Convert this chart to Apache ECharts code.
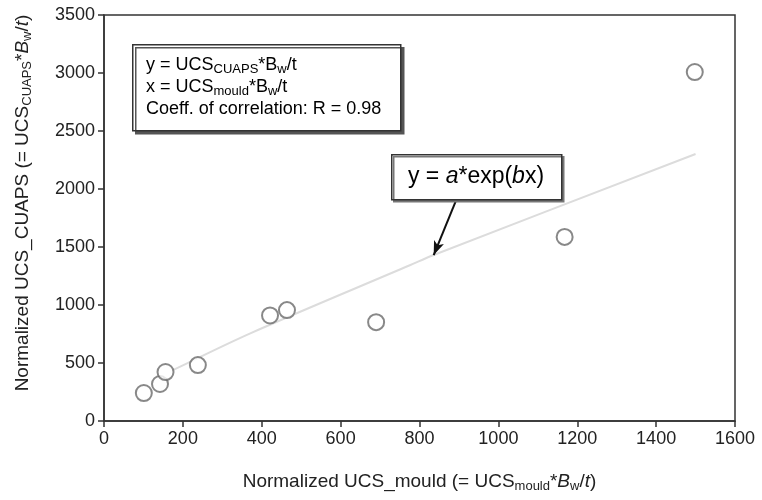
<!DOCTYPE html>
<html>
<head>
<meta charset="utf-8">
<script src="https://cdn.jsdelivr.net/npm/echarts@6/dist/echarts.min.js"></script>
<style>
  html, body { margin: 0; padding: 0; background: #fff; }
  #main { width: 762px; height: 500px; }
</style>
</head>
<body>
<div id="main"></div>
<script>
// measured points: normalized UCS (mould) vs normalized UCS (CUAPS)
const ucsMould = [101, 142, 156, 238, 421, 464, 690, 1168, 1498];
const ucsCuaps = [241, 319, 422, 482, 910, 956, 852, 1587, 3008];

// fitted curve y = a*exp(bx)
const fitX = [176, 371, 777, 836, 1500];
const fitY = [440, 756, 1345, 1431, 2302];

// arrow of the formula label (from box to curve)
const arrowFrom = [893, 1905];
const arrowTo = [836, 1431];

const font = '"Liberation Sans", Arial, sans-serif';
const ink = '#222';

const points = ucsMould.map((x, i) => [x, ucsCuaps[i]]);
const fit = fitX.map((x, i) => [x, fitY[i]]);

const sub = { fontSize: 13, fontFamily: font, color: ink, verticalAlign: 'bottom', lineHeight: 22, padding: [8, 0, 0, 0] };
const txt = { fontSize: 19, fontFamily: font, color: ink, lineHeight: 22 };
const it = Object.assign({}, txt, { fontStyle: 'italic' });
const boxTxt = { fontSize: 18, fontFamily: font, color: ink, lineHeight: 22 };
const boxSub = { fontSize: 13, fontFamily: font, color: ink, verticalAlign: 'bottom', lineHeight: 22, padding: [8, 0, 0, 0] };

const myChart = echarts.init(document.getElementById('main'));
const chartOpts = {
  animation: false,
  grid: {
    left: 104, right: 27, top: 15, bottom: 79,
    show: true, borderColor: '#333', borderWidth: 1.5
  },
  xAxis: {
    type: 'value', min: 0, max: 1600, interval: 200,
    splitLine: { show: false },
    axisLine: { onZero: false, lineStyle: { color: '#333', width: 1.5 } },
    axisTick: { length: 6, lineStyle: { color: '#333', width: 1.5 } },
    axisLabel: { color: ink, fontSize: 18, fontFamily: font, margin: 9, formatter: v => String(v) },
    name: '{t|Normalized UCS_mould (= UCS}{s|mould}{t|*}{i|B}{s|w}{t|/}{i|t}{t|)}',
    nameLocation: 'middle', nameGap: 50,
    nameTextStyle: { rich: { t: txt, i: it, s: sub } }
  },
  yAxis: {
    type: 'value', min: 0, max: 3500, interval: 500,
    splitLine: { show: false },
    axisLine: { onZero: false, lineStyle: { color: '#333', width: 1.5 } },
    axisTick: { length: 6, lineStyle: { color: '#333', width: 1.5 } },
    axisLabel: { color: ink, fontSize: 18, fontFamily: font, margin: 9, formatter: v => String(v) },
    name: '{t|Normalized UCS_CUAPS (= UCS}{s|CUAPS}{t|*}{i|B}{s|w}{t|/}{i|t}{t|)}',
    nameLocation: 'middle', nameGap: 70,
    nameTextStyle: { padding: [0, 0, 0, 30], rich: { t: txt, i: it, s: sub } }
  },
  series: [
    {
      type: 'line',
      data: fit,
      symbol: 'none',
      smooth: 0.3,
      lineStyle: { color: '#dcdcdc', width: 2 },
      z: 1,
      markLine: {
        silent: true,
        symbol: ['none', 'arrow'],
        symbolSize: [8, 14],
        label: { show: false },
        lineStyle: { color: '#111', width: 2, type: 'solid' },
        data: [[{ coord: arrowFrom }, { coord: arrowTo }]]
      }
    },
    {
      type: 'scatter',
      data: points,
      symbol: 'circle',
      symbolSize: 16,
      itemStyle: { color: '#fff', borderColor: '#6a6a6a', borderWidth: 2 },
      z: 3
    }
  ],
  graphic: [
    {
      type: 'rect', left: 132, top: 44, z: 10,
      shape: { width: 268, height: 86 },
      style: { fill: '#fff', stroke: '#333', lineWidth: 1.5, shadowColor: '#555', shadowOffsetX: 3, shadowOffsetY: 3, shadowBlur: 0 }
    },
    {
      type: 'text', left: 146, top: 55, z: 11,
      style: {
        text: '{t|y = UCS}{s|CUAPS}{t|*B}{s|w}{t|/t}\n{t|x = UCS}{s|mould}{t|*B}{s|w}{t|/t}\n{t|Coeff. of correlation: R = 0.98}',
        rich: { t: boxTxt, s: boxSub }
      }
    },
    {
      type: 'rect', left: 391, top: 154, z: 10,
      shape: { width: 170, height: 45 },
      style: { fill: '#fff', stroke: '#333', lineWidth: 1.5, shadowColor: '#777', shadowOffsetX: 2, shadowOffsetY: 2, shadowBlur: 0 }
    },
    {
      type: 'text', x: 476, y: 177, z: 11,
      style: {
        text: '{t|y = }{i|a}{t|*exp(}{i|b}{t|x)}',
        align: 'center', verticalAlign: 'middle',
        rich: {
          t: { fontSize: 23, fontFamily: font, color: ink },
          i: { fontSize: 23, fontFamily: font, color: ink, fontStyle: 'italic' }
        }
      }
    }
  ]
};
myChart.setOption(chartOpts);
</script>
</body>
</html>
